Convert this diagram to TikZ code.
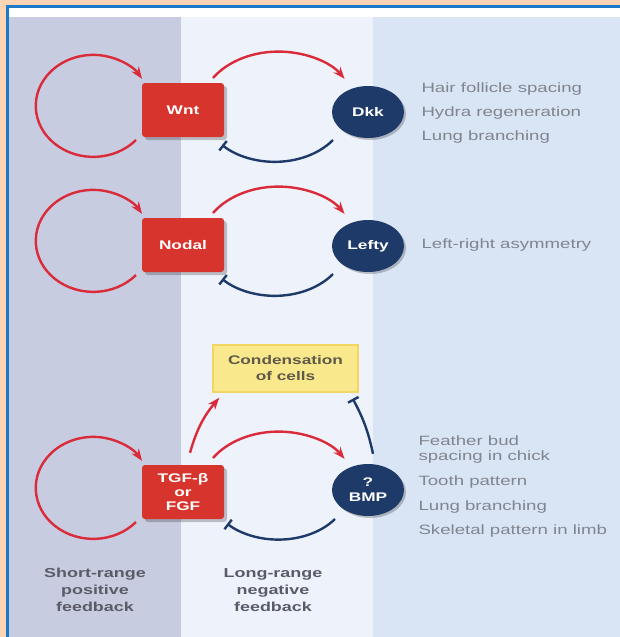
\documentclass[tikz,border=0pt]{standalone}
\usepackage{fontspec}
\setmainfont{Liberation Sans}[FakeStretch=1.38]
\usetikzlibrary{positioning,calc,arrows.meta,shapes.geometric,shadows}
\definecolor{peach}{HTML}{FCD5B4}
\definecolor{frameblue}{HTML}{1C78C8}
\definecolor{shortbg}{HTML}{C8CCE0}
\definecolor{longbg}{HTML}{EEF3FB}
\definecolor{effbg}{HTML}{D9E4F5}
\definecolor{sigred}{HTML}{D6342C}
\definecolor{arcred}{HTML}{D92B3A}
\definecolor{navy}{HTML}{1E3A69}
\definecolor{cellfill}{HTML}{F9E88C}
\definecolor{cellline}{HTML}{F3D660}
\definecolor{celltext}{HTML}{5F5A4A}
\definecolor{effgray}{HTML}{80858F}
\definecolor{rangegray}{HTML}{595C66}
\tikzset{>=Stealth}

\begin{document}
\begin{tikzpicture}[x=1pt,y=1pt,
  signalbox/.style={fill=sigred,rounded corners=3pt,minimum width=82pt,minimum height=54pt,
    text=white,align=center,font=\bfseries\fontsize{12.5}{14}\selectfont,
    drop shadow={shadow xshift=3pt,shadow yshift=-3pt,fill=black,opacity=.22}},
  inhibdisc/.style={ellipse,fill=navy,minimum width=72pt,minimum height=52pt,inner sep=0pt,
    text=white,align=center,font=\bfseries\fontsize{12.5}{15}\selectfont,
    drop shadow={shadow xshift=2pt,shadow yshift=-2pt,fill=black,opacity=.22}},
  cellbox/.style={fill=cellfill,draw=cellline,line width=1.5pt,minimum width=145pt,minimum height=47pt,
    text=celltext,align=center,font=\bfseries\fontsize{12.5}{16}\selectfont},
  posarrow/.style={draw=arcred,line width=2.4pt,-{Stealth[length=12pt,width=9pt]}},
  negbar/.style={draw=navy,line width=2.4pt,-{Bar[width=12pt]}},
  effecttext/.style={anchor=west,text=effgray,align=left,font=\fontsize{13.5}{15}\selectfont},
  rangelabel/.style={text=rangegray,align=center,font=\bfseries\fontsize{13}{17}\selectfont}]
% panels
\fill[peach] (0,0) rectangle (620,-637);
\fill[frameblue] (6,-5) rectangle (620,-637);
\fill[white] (9,-8) rectangle (620,-637);
\fill[shortbg] (9,-17) rectangle (181,-637);
\fill[longbg] (181,-17) rectangle (373,-637);
\fill[effbg] (373,-17) rectangle (620,-637);
\useasboundingbox (0,0) rectangle (620,-637);

\node[signalbox] (wnt) at (183,-110) {Wnt};
\node[inhibdisc] (dkk) at (368,-112) {Dkk};
\node[signalbox] (nodal) at (183,-245) {Nodal};
\node[inhibdisc] (lefty) at (368,-246) {Lefty};
\node[signalbox] (tgf) at (183,-492) {TGF-β\\or\\FGF};
\node[inhibdisc] (bmp) at (368,-490) {?\\BMP};
\node[cellbox] (cond) at (285.5,-368.5) {Condensation\\of cells};

% short-range loops
\draw[posarrow] ($(wnt)+(-47,-30)$) arc[start angle=-42,end angle=-328,x radius=57.5pt,y radius=51pt];
\draw[posarrow] ($(nodal)+(-47,-30)$) arc[start angle=-42,end angle=-328,x radius=57.5pt,y radius=51pt];
\draw[posarrow] ($(tgf)+(-47,-30)$) arc[start angle=-42,end angle=-328,x radius=57.5pt,y radius=51pt];

% long-range activation and inhibition
\draw[posarrow] ($(wnt)+(30,32)$) arc[start angle=147,end angle=32,x radius=78pt,y radius=58pt];
\draw[negbar] ($(dkk)+(-35,-28)$) arc[start angle=-36,end angle=-137,x radius=72pt,y radius=53pt];
\draw[posarrow] ($(nodal)+(30,32)$) arc[start angle=147,end angle=32,x radius=78pt,y radius=58pt];
\draw[negbar] ($(lefty)+(-35,-28)$) arc[start angle=-36,end angle=-137,x radius=72pt,y radius=53pt];
\draw[posarrow] ($(tgf)+(30,34)$) arc[start angle=147,end angle=32,x radius=78pt,y radius=58pt];
\draw[negbar] ($(bmp)+(-33,-29)$) arc[start angle=-36,end angle=-137,x radius=70pt,y radius=50pt];

% condensation
\draw[posarrow] ([xshift=7pt,yshift=12pt]tgf.north) to[bend left=12] ([xshift=7pt,yshift=-5pt]cond.south west);
\draw[negbar] ([xshift=5pt,yshift=10pt]bmp.north) to[bend right=8] ([xshift=-6pt,yshift=-6pt]cond.south east);

% outcomes
\node[effecttext] (hair) at (418,-89) {Hair follicle spacing};
\node[effecttext] (hydra) at (418,-113) {Hydra regeneration};
\node[effecttext] (lung) at (418,-137) {Lung branching};
\node[effecttext] (asym) at (418,-245) {Left-right asymmetry};
\node[effecttext] (feather) at (415,-449.5) {Feather bud\\spacing in chick};
\node[effecttext] (tooth) at (415,-482) {Tooth pattern};
\node[effecttext] (branch) at (415,-507) {Lung branching};
\node[effecttext] (limb) at (415,-531) {Skeletal pattern in limb};

\node[rangelabel] (short) at (95,-590) {Short-range\\positive\\feedback};
\node[rangelabel] (long) at (273,-590) {Long-range\\negative\\feedback};
\end{tikzpicture}
\end{document}
